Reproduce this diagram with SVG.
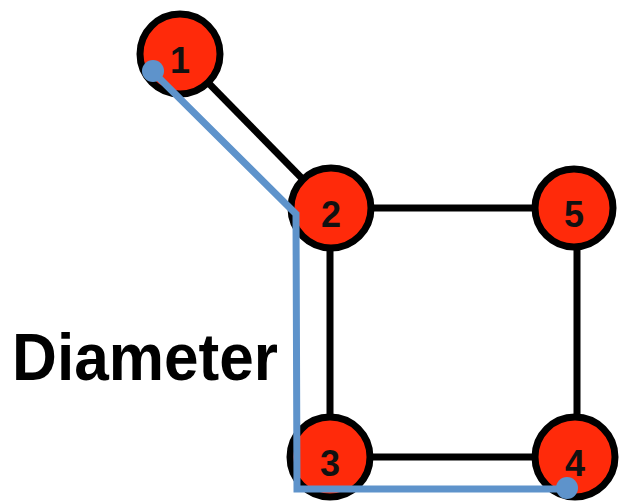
<svg xmlns="http://www.w3.org/2000/svg" width="621" height="504" viewBox="0 0 621 504">
<style>
.edge{stroke:#000;stroke-width:7;fill:none}
.node circle{fill:#FF2A0A;stroke:#000;stroke-width:7}
.node text{font-family:"Liberation Sans",Arial,sans-serif;font-weight:bold;font-size:36px;fill:#111;text-anchor:middle}
.path{stroke:#5E93CB;stroke-width:7;fill:none;stroke-linejoin:miter}
.dot{fill:#5E93CB}
.label{font-family:"Liberation Sans",Arial,sans-serif;font-weight:bold;font-size:66px;fill:#000}
</style>
<rect width="621" height="504" fill="#fff"/>
<g id="connectors">
<line class="edge" x1="180" y1="54" x2="331" y2="208"/>
<line class="edge" x1="331" y1="208" x2="575" y2="208"/>
<line class="edge" x1="330" y1="208" x2="330" y2="457"/>
<line class="edge" x1="577" y1="208" x2="577" y2="457"/>
<line class="edge" x1="330" y1="457" x2="575" y2="457"/>
</g>
<g id="node1" class="node"><circle cx="180" cy="54" r="40"/><text x="180" y="73">1</text></g>
<g id="node2" class="node"><circle cx="331" cy="208" r="40"/><text x="331" y="227">2</text></g>
<g id="node5" class="node"><circle cx="574" cy="208" r="39"/><text x="574" y="227">5</text></g>
<g id="node3" class="node"><circle cx="330" cy="457" r="40"/><text x="330" y="476">3</text></g>
<g id="node4" class="node"><circle cx="575" cy="457" r="40"/><text x="575" y="476">4</text></g>
<g id="diameter">
<polyline class="path" points="153,72 296,214 297,489 567,489"/>
<circle class="dot" cx="153" cy="71" r="11"/>
<circle class="dot" cx="567" cy="488" r="11"/>
</g>
<text class="label" x="12" y="380" textLength="266" lengthAdjust="spacingAndGlyphs">Diameter</text>
</svg>
